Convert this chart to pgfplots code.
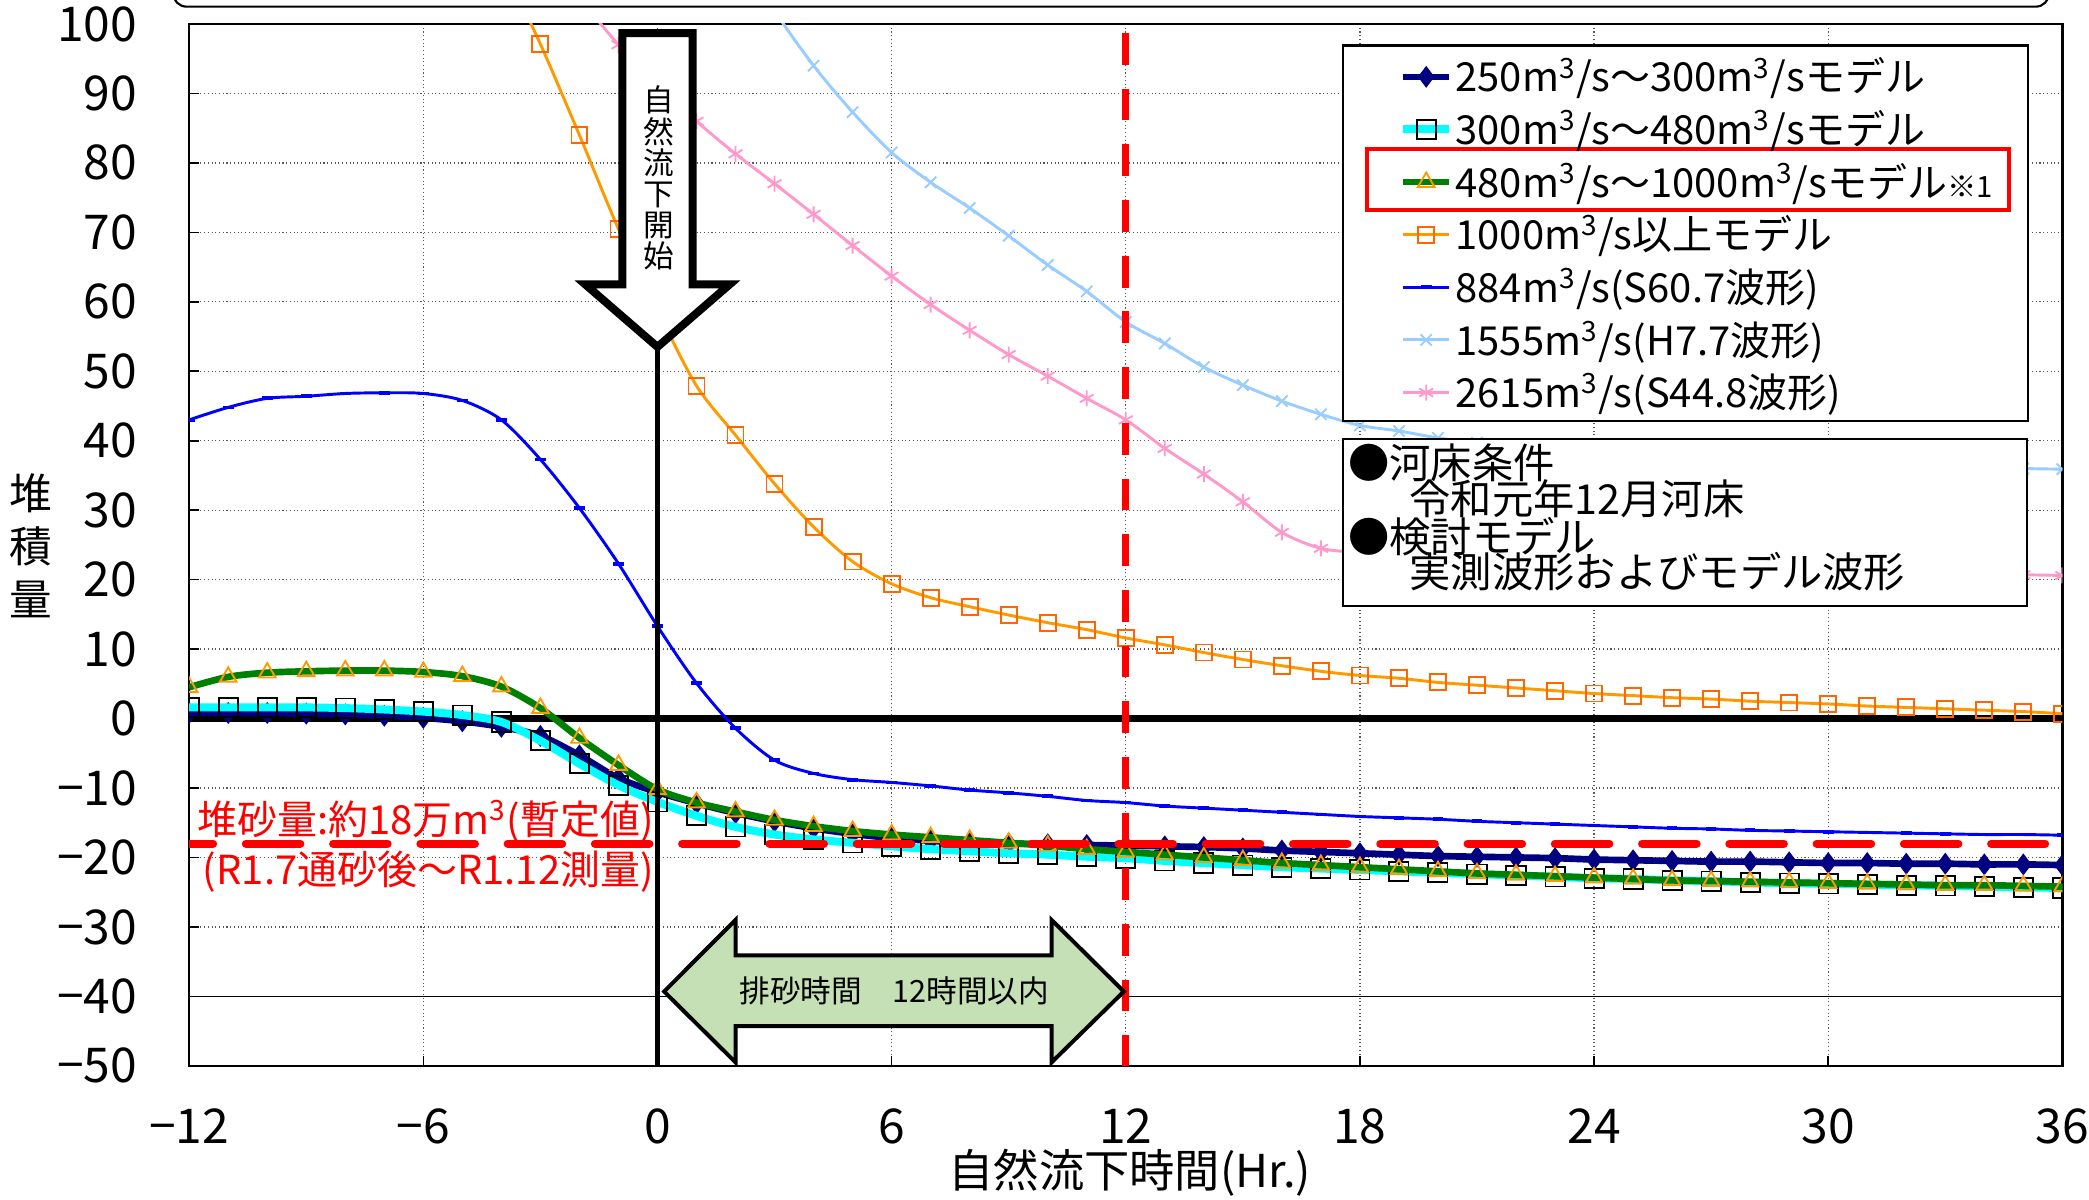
\documentclass[border=0pt]{standalone}
\usepackage{fontspec}
\setmainfont{Noto Sans CJK JP}
\usepackage{pgfplots}
\usepackage{pgfplotstable}
\pgfplotsset{compat=1.18}
\definecolor{navyc}{RGB}{0,0,128}
\definecolor{cyanc}{RGB}{0,255,255}
\definecolor{greenc}{RGB}{0,128,0}
\definecolor{orangeL}{RGB}{255,153,0}
\definecolor{orangeM}{RGB}{255,102,0}
\definecolor{bluec}{RGB}{0,0,255}
\definecolor{lbluec}{RGB}{153,204,255}
\definecolor{pinkc}{RGB}{255,153,204}
\definecolor{arrowgreen}{RGB}{197,224,180}
\newcommand\LS{\rule[-3.5pt]{0pt}{15.5pt}}
\pgfplotstableread{
x a b c d e f g
-12 0.8 1.6 4.5 nan 43.0 nan nan
-11 0.8 1.6 6.0 nan 44.8 nan nan
-10 0.8 1.6 6.6 nan 46.1 nan nan
-9 0.7 1.6 6.8 nan 46.4 nan nan
-8 0.6 1.5 6.9 nan 46.8 nan nan
-7 0.4 1.3 6.9 nan 46.9 nan nan
-6 0.1 1.0 6.7 nan 46.8 nan nan
-5 -0.4 0.5 6.1 nan 45.8 nan nan
-4 -1.2 -0.5 4.6 109.0 43.0 nan nan
-3 -2.5 -3.2 1.5 97.1 37.3 nan nan
-2 -5.3 -6.5 -2.8 84.0 30.3 nan 103.8
-1 -8.6 -9.6 -6.7 70.5 22.3 nan 97.0
0 -10.6 -12.0 -10.2 58.8 13.3 nan 91.3
1 -12.2 -14.0 -12.1 47.9 5.1 nan 86.0
2 -13.6 -15.6 -13.4 40.8 -1.4 111.0 81.3
3 -14.8 -16.7 -14.6 33.8 -6.0 101.9 77.0
4 -15.8 -17.4 -15.5 27.6 -7.9 94.0 72.6
5 -16.6 -17.9 -16.2 22.6 -8.8 87.3 68.1
6 -17.2 -18.4 -16.7 19.4 -9.2 81.5 63.7
7 -17.6 -18.8 -17.1 17.4 -9.7 77.2 59.6
8 -17.9 -19.1 -17.5 16.1 -10.3 73.5 55.9
9 -18.0 -19.4 -17.9 14.9 -10.7 69.5 52.4
10 -18.1 -19.6 -18.3 13.8 -11.2 65.3 49.3
11 -18.2 -19.9 -18.8 12.8 -11.8 61.5 46.1
12 -18.3 -20.1 -19.2 11.6 -12.1 57.1 43.0
13 -18.4 -20.5 -19.6 10.6 -12.6 54.0 38.9
14 -18.5 -20.8 -20.0 9.5 -12.9 50.6 35.2
15 -18.7 -21.1 -20.4 8.5 -13.2 48.0 31.2
16 -19.0 -21.4 -20.8 7.6 -13.5 45.7 26.8
17 -19.2 -21.6 -21.1 6.8 -13.8 43.8 24.5
18 -19.4 -21.8 -21.4 6.2 -14.1 42.2 23.9
19 -19.6 -22.0 -21.7 5.8 -14.3 41.4 23.5
20 -19.8 -22.2 -22.0 5.2 -14.5 40.4 23.2
21 -19.9 -22.4 -22.3 4.8 -14.8 39.7 22.9
22 -20.0 -22.6 -22.5 4.4 -15.0 39.1 22.6
23 -20.1 -22.8 -22.7 4.0 -15.2 38.6 22.4
24 -20.3 -23.0 -22.9 3.6 -15.4 38.2 22.2
25 -20.4 -23.1 -23.1 3.3 -15.6 37.9 22.0
26 -20.5 -23.3 -23.3 3.0 -15.8 37.6 21.8
27 -20.6 -23.4 -23.4 2.8 -15.9 37.4 21.7
28 -20.6 -23.6 -23.5 2.5 -16.1 37.2 21.5
29 -20.7 -23.7 -23.6 2.3 -16.2 37.0 21.4
30 -20.8 -23.8 -23.7 2.1 -16.3 36.8 21.2
31 -20.8 -23.9 -23.8 1.8 -16.4 36.6 21.1
32 -20.9 -24.0 -23.9 1.6 -16.5 36.5 21.0
33 -20.9 -24.1 -24.0 1.4 -16.6 36.3 20.9
34 -21.0 -24.2 -24.0 1.2 -16.7 36.2 20.8
35 -21.0 -24.3 -24.1 1.0 -16.7 36.0 20.7
36 -21.1 -24.4 -24.2 0.7 -16.8 35.9 20.6
}\data
\begin{document}
\begin{tikzpicture}
\useasboundingbox (-71pt,-50pt) rectangle (713pt,400pt);
\begin{axis}[
  at={(0pt,0pt)}, anchor=south west,
  scale only axis, width=703pt, height=391pt,
  xmin=-12, xmax=36, ymin=-50, ymax=100,
  xtick={-12,-6,0,6,12,18,24,30,36},
  xticklabels={−12,−6,0,6,12,18,24,30,36},
  ytick={-50,-40,-30,-20,-10,0,10,20,30,40,50,60,70,80,90,100},
  yticklabels={−50,−40,−30,−20,−10,0,10,20,30,40,50,60,70,80,90,100},
  grid=major, grid style={densely dotted, black!65, line width=0.5pt},
  tick pos=left, tick align=inside, major tick length=3.5pt,
  tick style={black, line width=0.6pt},
  axis line style={black, line width=0.9pt},
  tick label style={font=\fontsize{18}{18}\selectfont},
  yticklabel style={xshift=-16pt},
  xticklabel style={yshift=-12.5pt},
  /pgf/number format/assume math mode=true,
  clip marker paths=true,
  legend cell align=left,
  legend style={at={(axis cs:19.0,95.6)}, anchor=north west, draw=none, fill=none,
    font=\fontsize{15}{15}\selectfont, inner xsep=0pt, inner ysep=0pt, row sep=3.4pt,
    nodes={inner sep=1pt}},
]
\draw[black, line width=0.6pt] (axis cs:-12,-40) -- (axis cs:36,-40);
\draw[black, line width=2.6pt] (axis cs:-12,0) -- (axis cs:36,0);

\addplot[color=navyc, line width=2.5pt, smooth, mark=diamond*, mark size=3.8pt, mark options={solid, fill=navyc, draw=navyc, line width=0.4pt}] table[x=x,y=a]{\data};
\addlegendentry{\LS 250m\textsuperscript{3}/s～300m\textsuperscript{3}/sモデル}
\addplot[color=cyanc, line width=3pt, smooth, mark=square, mark size=3.6pt, mark options={solid, draw=black, line width=0.7pt}] table[x=x,y=b]{\data};
\addlegendentry{\LS 300m\textsuperscript{3}/s～480m\textsuperscript{3}/sモデル}
\addplot[color=greenc, line width=2.5pt, smooth, mark=triangle, mark size=3.6pt, mark options={solid, draw=orangeL, line width=0.7pt}] table[x=x,y=c]{\data};
\addlegendentry{\LS 480m\textsuperscript{3}/s～1000m\textsuperscript{3}/sモデル{\fontsize{11}{11}\selectfont ※1}}
\addplot[color=orangeL, line width=1.1pt, smooth, mark=square, mark size=3pt, mark options={solid, draw=orangeM, line width=0.7pt}] table[x=x,y=d]{\data};
\addlegendentry{\LS 1000m\textsuperscript{3}/s以上モデル}
\addplot[color=bluec, line width=1.1pt, smooth, mark=-, mark size=2pt, mark options={solid, line width=1.4pt}] table[x=x,y=e]{\data};
\addlegendentry{\LS 884m\textsuperscript{3}/s(S60.7波形)}
\addplot[color=lbluec, line width=1.1pt, smooth, mark=x, mark size=3pt, mark options={solid, line width=0.7pt}] table[x=x,y=f]{\data};
\addlegendentry{\LS 1555m\textsuperscript{3}/s(H7.7波形)}
\addplot[color=pinkc, line width=1.1pt, smooth, mark=asterisk, mark size=3pt, mark options={solid, line width=0.7pt}] table[x=x,y=g]{\data};
\addlegendentry{\LS 2615m\textsuperscript{3}/s(S44.8波形)}

% vertical start line and big arrow
\draw[black, line width=2.2pt] (axis cs:0,54) -- (axis cs:0,-50);
\draw[black, line width=3pt, fill=white, line join=miter]
  (axis cs:-0.9,98.7) -- (axis cs:0.9,98.7) -- (axis cs:0.9,62.5) -- (axis cs:1.85,62.5)
  -- (axis cs:0,53.5) -- (axis cs:-1.85,62.5) -- (axis cs:-0.9,62.5) -- cycle;
\node[font=\fontsize{11.5}{11.7}\selectfont, align=center, inner sep=0pt] at (axis cs:0.03,77.8) {自\\然\\流\\下\\開\\始};

% red dashed lines
\draw[red, line width=2.75pt, dash pattern=on 11.9pt off 9pt, dash phase=17.5pt] (axis cs:12,100) -- (axis cs:12,-50);
\draw[red, line width=3pt, line cap=round, dash pattern=on 20.5pt off 12.25pt, dash phase=11.5pt] (axis cs:-12,-18) -- (axis cs:35.56,-18);

% red annotation
\node[red, anchor=west, inner sep=0pt, font=\fontsize{15}{15}\selectfont] at (axis cs:-11.8,-14.8) {堆砂量:約18万m\textsuperscript{3}(暫定値)};
\node[red, anchor=west, inner sep=0pt, font=\fontsize{15}{15}\selectfont] at (axis cs:-11.66,-22.0) {(R1.7通砂後～R1.12測量)};

% green double arrow
\draw[black, line width=1.5pt, fill=arrowgreen, line join=miter]
  (axis cs:0.17,-39.3) -- (axis cs:2.0,-29.0) -- (axis cs:2.0,-34.1) -- (axis cs:10.1,-34.1)
  -- (axis cs:10.1,-29.0) -- (axis cs:11.95,-39.3) -- (axis cs:10.1,-49.5) -- (axis cs:10.1,-44.3)
  -- (axis cs:2.0,-44.3) -- (axis cs:2.0,-49.5) -- cycle;
\node[font=\fontsize{11.5}{11.5}\selectfont, inner sep=0pt] at (axis cs:6.07,-39.2) {排砂時間　12時間以内};

% legend box, red highlight
\draw[black, line width=0.8pt, fill=white] (axis cs:17.56,96.9) rectangle (axis cs:35.13,42.9);
\draw[red, line width=1.5pt] (axis cs:18.17,82.0) rectangle (axis cs:34.63,73.2);

% conditions box
\draw[black, line width=0.8pt, fill=white] (axis cs:17.56,40.3) rectangle (axis cs:35.1,16.2);
\node[anchor=west, inner sep=0pt, font=\fontsize{15.5}{15.5}\selectfont] at (axis cs:17.69,36.8) {●河床条件};
\node[anchor=west, inner sep=0pt, font=\fontsize{15.5}{15.5}\selectfont] at (axis cs:19.26,31.6) {令和元年12月河床};
\node[anchor=west, inner sep=0pt, font=\fontsize{15.5}{15.5}\selectfont] at (axis cs:17.69,26.2) {●検討モデル};
\node[anchor=west, inner sep=0pt, font=\fontsize{15.5}{15.5}\selectfont] at (axis cs:19.26,21.1) {実測波形およびモデル波形};
\end{axis}
% labels outside the axis
\node[font=\fontsize{16}{20}\selectfont, align=center] at (-59.5pt,195.2pt) {堆\\積\\量};
\node[font=\fontsize{17}{17}\selectfont] at (353pt,-40pt) {自然流下時間(Hr.)};
\draw[black, line width=0.8pt, rounded corners=5pt] (-6pt,410pt) -- (-6pt,397.5pt) -- (698pt,397.5pt) -- (698pt,410pt);
\end{tikzpicture}
\end{document}
